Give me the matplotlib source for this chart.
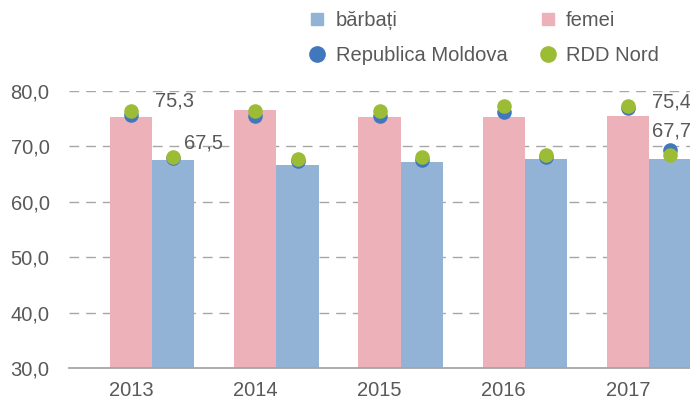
import matplotlib.pyplot as plt
from matplotlib.lines import Line2D
import numpy as np

plt.rcParams['font.family'] = ['Liberation Sans', 'DejaVu Sans']

years = ["2013", "2014", "2015", "2016", "2017"]
femei = [75.3, 76.6, 75.3, 75.3, 75.4]
barbati = [67.5, 66.7, 67.2, 67.7, 67.7]
# dots: Republica Moldova and RDD Nord, for women and men
rm_femei = [75.7, 75.4, 75.5, 76.2, 76.9]
rdd_femei = [76.3, 76.4, 76.4, 77.3, 77.3]
rm_barbati = [67.9, 67.4, 67.5, 68.1, 69.4]
rdd_barbati = [68.0, 67.8, 68.1, 68.5, 68.5]

c_fem = "#ecb1b9"
c_bar = "#93b3d6"
c_rm = "#4177bd"
c_rdd = "#9bbc34"
gray = "#595959"
fs = 14.5

fig = plt.figure(figsize=(6.9, 4), dpi=100)
ax = fig.add_axes([0.1, 0.08, 0.9, 0.6925])

x = np.arange(len(years))
w = 0.34
ax.bar(x, femei, w, color=c_fem, zorder=2)
ax.bar(x + w, barbati, w, color=c_bar, zorder=2)

ax.scatter(x, rm_femei, s=110, color=c_rm, zorder=3, linewidths=0)
ax.scatter(x, rdd_femei, s=110, color=c_rdd, zorder=4, linewidths=0)
ax.scatter(x + w, rm_barbati, s=110, color=c_rm, zorder=3, linewidths=0)
ax.scatter(x + w, rdd_barbati, s=110, color=c_rdd, zorder=4, linewidths=0)

# value labels for first and last year
fmt = lambda v: f"{v:.1f}".replace(".", ",")
ax.text(0.35, 78.25, fmt(femei[0]), ha="center", va="center", fontsize=fs, color=gray)
ax.text(0.58, 70.7, fmt(barbati[0]), ha="center", va="center", fontsize=fs, color=gray)
ax.text(4.35, 78.1, fmt(femei[4]), ha="center", va="center", fontsize=fs, color=gray)
ax.text(4.35, 72.7, fmt(barbati[4]), ha="center", va="center", fontsize=fs, color=gray)

ax.set_xlim(-0.5, 4.5)
ax.set_ylim(30, 80)
yt = [30, 40, 50, 60, 70, 80]
ax.set_yticks(yt)
ax.set_yticklabels([fmt(v) for v in yt])
ax.set_xticks(x)
ax.set_xticklabels(years)
ax.tick_params(length=0, labelsize=fs, labelcolor=gray)
ax.tick_params(axis="x", pad=9)
ax.tick_params(axis="y", pad=14)

for v in yt[1:]:
    ax.axhline(v, color="#a6a6a6", linestyle=(0, (7, 5)), linewidth=1, zorder=1)
for s in ["top", "right", "left"]:
    ax.spines[s].set_visible(False)
ax.spines["bottom"].set_color("#a6a6a6")
ax.spines["bottom"].set_linewidth(1.3)

handles = [
    Line2D([], [], marker="s", linestyle="none", color=c_bar, markersize=9),
    Line2D([], [], marker="o", linestyle="none", color=c_rm, markersize=11),
    Line2D([], [], marker="s", linestyle="none", color=c_fem, markersize=9),
    Line2D([], [], marker="o", linestyle="none", color=c_rdd, markersize=11),
]
labels = ["bărbați", "Republica Moldova", "femei", "RDD Nord"]
fig.legend(handles, labels, ncol=2, loc="center", bbox_to_anchor=(0.70, 0.905),
           frameon=False, fontsize=fs, labelcolor=gray, handletextpad=0.4,
           columnspacing=1.5, labelspacing=0.8, handlelength=1.0)

fig.savefig("out.png", dpi=100)
